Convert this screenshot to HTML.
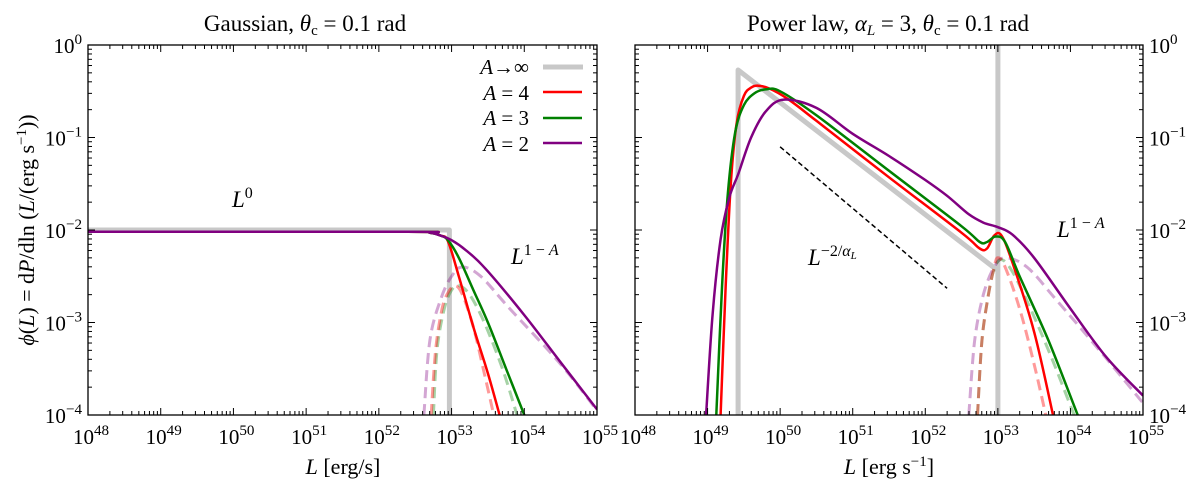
<!DOCTYPE html>
<html><head><meta charset="utf-8">
<style>
body{margin:0;background:#fff;}
svg{display:block;font-family:"Liberation Serif","DejaVu Serif",serif;}
</style></head>
<body>
<svg id="fig" width="1200" height="481" viewBox="0 0 1200 481"></svg>
<script>
// ---------- data (log10 L, log10 phi) ----------
const xDecades = [48,49,50,51,52,53,54,55];
const yDecades = [0,-1,-2,-3,-4];
const gaussLimitX = [48, 52.97, 52.97];
const gaussLimitY = [-2, -2, -4];
const gaussA4X = [48, 52.4, 52.7, 52.85, 52.95, 53.1, 53.3, 53.5, 53.66];
const gaussA4Y = [-2.02, -2.02, -2.03, -2.06, -2.12, -2.5, -3.05, -3.55, -4];
const gaussA3X = [48, 52.4, 52.7, 52.85, 52.95, 53.1, 53.3, 53.5, 53.75, 54.0];
const gaussA3Y = [-2.02, -2.02, -2.03, -2.06, -2.11, -2.3, -2.65, -3.0, -3.5, -4];
const gaussA2X = [48, 52.4, 52.7, 52.85, 53.0, 53.2, 53.47, 54, 54.5, 55];
const gaussA2Y = [-2.02, -2.02, -2.03, -2.06, -2.11, -2.22, -2.42, -2.92, -3.43, -3.94];
const gaussA4dX = [52.72, 52.78, 52.87, 52.95, 53.05, 53.15, 53.3, 53.45, 53.58];
const gaussA4dY = [-4, -3.3, -2.85, -2.68, -2.6, -2.7, -3.05, -3.55, -4];
const gaussA3dX = [52.75, 52.8, 52.9, 53.0, 53.1, 53.25, 53.45, 53.7, 53.9];
const gaussA3dY = [-4, -3.3, -2.85, -2.65, -2.6, -2.7, -3.0, -3.5, -4];
const gaussA2dX = [52.62, 52.7, 52.85, 53.0, 53.15, 53.4, 53.8, 54.5, 55];
const gaussA2dY = [-4, -3.2, -2.75, -2.5, -2.4, -2.5, -2.85, -3.45, -3.95];

const plLimitX = [49.42, 49.42, 53.0];
const plLimitY = [-4, -0.27, -2.44];
const plA4X = [49.18, 49.25, 49.32, 49.4, 49.5, 49.6, 49.7, 49.85, 50.1, 50.5, 51.5, 52.5, 52.75, 52.85, 52.95, 53.05, 53.2, 53.5, 53.76];
const plA4Y = [-4, -2.6, -1.5, -0.85, -0.55, -0.46, -0.44, -0.47, -0.58, -0.82, -1.43, -2.03, -2.2, -2.2, -2.06, -2.06, -2.35, -3.1, -4];
const plA3X = [49.12, 49.2, 49.28, 49.38, 49.5, 49.65, 49.8, 50.0, 50.5, 51.5, 52.5, 52.75, 52.85, 52.97, 53.1, 53.3, 53.7, 54.1];
const plA3Y = [-4, -2.6, -1.6, -0.95, -0.65, -0.52, -0.48, -0.5, -0.76, -1.36, -1.96, -2.13, -2.13, -2.07, -2.13, -2.5, -3.2, -4];
const plA2X = [48.98, 49.07, 49.18, 49.3, 49.42, 49.6, 49.8, 50.05, 50.5, 51, 51.5, 52, 52.3, 52.6, 52.8, 53.0, 53.2, 53.5, 54, 54.5, 55];
const plA2Y = [-4, -2.9, -2.1, -1.65, -1.4, -1.0, -0.72, -0.59, -0.68, -0.96, -1.2, -1.46, -1.63, -1.83, -1.92, -1.97, -2.05, -2.3, -2.85, -3.38, -3.79];
const plA4dX = [52.72, 52.78, 52.87, 52.95, 53.0, 53.1, 53.3, 53.5, 53.66];
const plA4dY = [-4, -3.2, -2.7, -2.4, -2.3, -2.4, -2.85, -3.45, -4];
const plA3dX = [52.72, 52.78, 52.87, 52.95, 53.05, 53.2, 53.45, 53.75, 54.05];
const plA3dY = [-4, -3.2, -2.7, -2.42, -2.32, -2.45, -2.85, -3.4, -4];
const plA2dX = [52.6, 52.68, 52.8, 52.95, 53.1, 53.4, 53.8, 54.4, 55];
const plA2dY = [-4, -3.2, -2.7, -2.4, -2.3, -2.4, -2.75, -3.3, -3.87];
const guideX = [50.0, 52.3];
const guideY = [-1.1, -2.63];

// ---------- drawing ----------
const NS = "http://www.w3.org/2000/svg";
const svg = document.getElementById('fig');
function el(tag, attrs, parent){
  const e = document.createElementNS(NS, tag);
  for (const k in attrs) e.setAttribute(k, attrs[k]);
  (parent||svg).appendChild(e);
  return e;
}
const Y0 = 45, Y1 = 415;
function makePanel(x0, x1){
  return {x0, x1,
    sx: v => x0 + (v - 48) / 7 * (x1 - x0),
    sy: v => Y0 + (0 - v) / 4 * (Y1 - Y0)};
}
const P1 = makePanel(88, 597);
const P2 = makePanel(635, 1143);

function series(P, xs, ys, color, width, dash, opacity, name, g, smooth){
  const pts = xs.map((x, i) => [P.sx(x), P.sy(ys[i])]);
  let d = 'M' + pts[0][0].toFixed(1) + ',' + pts[0][1].toFixed(1);
  for (let i = 0; i < pts.length - 1; i++){
    const p1 = pts[i], p2 = pts[i+1];
    if (smooth){
      const p0 = pts[i-1] || p1, p3 = pts[i+2] || p2;
      const c1 = [p1[0] + (p2[0]-p0[0])/6, p1[1] + (p2[1]-p0[1])/6];
      const c2 = [p2[0] - (p3[0]-p1[0])/6, p2[1] - (p3[1]-p1[1])/6];
      d += 'C' + c1[0].toFixed(1) + ',' + c1[1].toFixed(1) + ' ' + c2[0].toFixed(1) + ',' + c2[1].toFixed(1) + ' ' + p2[0].toFixed(1) + ',' + p2[1].toFixed(1);
    } else d += 'L' + p2[0].toFixed(1) + ',' + p2[1].toFixed(1);
  }
  const p = el('path', {d, fill:'none', stroke:color, 'stroke-width':width,
    'stroke-linejoin':'round', 'stroke-linecap':'butt', opacity:opacity}, g);
  if (dash) p.setAttribute('stroke-dasharray', dash);
  
  
  return p;
}
function powText(x, y, base, exp, anchor, size, name, g){
  const t = el('text', {x, y, 'font-size':size, 'text-anchor':anchor, fill:'#000'}, g);
  
  
  const b = el('tspan', {}, t); b.textContent = base;
  const e = el('tspan', {dy:-size*0.42, 'font-size':size*0.72}, t); e.textContent = exp;
  return t;
}
function axes(P, idx, rightLabels){
  const g = el('g', {});
  
  
  const clipId = 'clip' + idx;
  const cp = el('clipPath', {id:clipId}, g);
  el('rect', {x:P.x0, y:Y0, width:P.x1-P.x0, height:Y1-Y0}, cp);
  const plot = el('g', {'clip-path':'url(#'+clipId+')'}, g);
  
  
  const tk = el('g', {stroke:'#000', 'stroke-width':1}, g);
  
  
  for (let d = 48; d <= 55; d++){
    const x = P.sx(d);
    el('line', {x1:x, x2:x, y1:Y1, y2:Y1-7}, tk);
    el('line', {x1:x, x2:x, y1:Y0, y2:Y0+7}, tk);
    if (d < 55) for (let m = 2; m <= 9; m++){
      const xm = P.sx(d + Math.log10(m));
      el('line', {x1:xm, x2:xm, y1:Y1, y2:Y1-4}, tk);
      el('line', {x1:xm, x2:xm, y1:Y0, y2:Y0+4}, tk);
    }
  }
  for (let d = -4; d <= 0; d++){
    const y = P.sy(d);
    el('line', {x1:P.x0, x2:P.x0+7, y1:y, y2:y}, tk);
    el('line', {x1:P.x1, x2:P.x1-7, y1:y, y2:y}, tk);
    if (d < 0) for (let m = 2; m <= 9; m++){
      const ym = P.sy(d + Math.log10(m));
      el('line', {x1:P.x0, x2:P.x0+4, y1:ym, y2:ym}, tk);
      el('line', {x1:P.x1, x2:P.x1-4, y1:ym, y2:ym}, tk);
    }
  }
  xDecades.forEach(d => {
    powText(P.sx(d) + 3, 444, '10', String(d), 'middle', 21, 'x-tick-label', g);
  });
  yDecades.forEach(d => {
    const s = d === 0 ? '0' : '\u2212' + (-d);
    if (rightLabels) powText(P.x1 + 6, P.sy(d) + 8, '10', s, 'start', 21, 'y-tick-label', g);
    else powText(P.x0 - 6, P.sy(d) + 8, '10', s, 'end', 21, 'y-tick-label', g);
  });
  return {g, plot};
}

// Panel 1
const a1 = axes(P1, 1, false);
series(P1, gaussLimitX, gaussLimitY, '#c8c8c8', 5, null, 1, 'series-a-infinity', a1.plot, false);
series(P1, gaussA2dX, gaussA2dY, '#800080', 3, '11,6', 0.35, 'series-a2-dashed', a1.plot, true);
series(P1, gaussA3dX, gaussA3dY, '#008000', 3, '11,6', 0.35, 'series-a3-dashed', a1.plot, true);
series(P1, gaussA4dX, gaussA4dY, '#ff0000', 3, '11,6', 0.4, 'series-a4-dashed', a1.plot, true);
series(P1, gaussA4X, gaussA4Y, '#ff0000', 2.5, null, 1, 'series-a4', a1.plot, true);
series(P1, gaussA3X, gaussA3Y, '#008000', 2.5, null, 1, 'series-a3', a1.plot, true);
series(P1, gaussA2X, gaussA2Y, '#800080', 2.5, null, 1, 'series-a2', a1.plot, true);

// Panel 2
const a2 = axes(P2, 2, true);
series(P2, [53,53], [-4,0], '#c8c8c8', 5, null, 1, 'series-a-infinity-cut', a2.plot, false);
series(P2, plLimitX, plLimitY, '#c8c8c8', 5, null, 1, 'series-a-infinity', a2.plot, false);
series(P2, plA2dX, plA2dY, '#800080', 3, '11,6', 0.35, 'series-a2-dashed', a2.plot, true);
series(P2, plA3dX, plA3dY, '#008000', 3, '11,6', 0.35, 'series-a3-dashed', a2.plot, true);
series(P2, plA4dX, plA4dY, '#ff0000', 3, '11,6', 0.4, 'series-a4-dashed', a2.plot, true);
series(P2, plA4X, plA4Y, '#ff0000', 2.5, null, 1, 'series-a4', a2.plot, true);
series(P2, plA3X, plA3Y, '#008000', 2.5, null, 1, 'series-a3', a2.plot, true);
series(P2, plA2X, plA2Y, '#800080', 2.5, null, 1, 'series-a2', a2.plot, true);
series(P2, guideX, guideY, '#000', 1.5, '5,3', 1, 'slope-guide-line', a2.plot, false);

[P1, P2].forEach((P, i) => {
  const r = el('rect', {x:P.x0, y:Y0, width:P.x1-P.x0, height:Y1-Y0, fill:'none', stroke:'#000', 'stroke-width':1.3});
  
  
});
</script>

<svg width="1200" height="481" style="position:absolute;left:0;top:0;font-family:'Liberation Serif','DejaVu Serif',serif;">
  <text x="305" y="31" font-size="23" text-anchor="middle">Gaussian, <tspan font-style="italic">θ</tspan><tspan font-size="15" dy="4">c</tspan><tspan dy="-4"> = 0.1 rad</tspan></text>
  <text x="888" y="31" font-size="23" text-anchor="middle">Power law, <tspan font-style="italic">α</tspan><tspan font-size="15" font-style="italic" dy="4">L</tspan><tspan dy="-4"> = 3, </tspan><tspan font-style="italic">θ</tspan><tspan font-size="15" dy="4">c</tspan><tspan dy="-4"> = 0.1 rad</tspan></text>
  <text x="343" y="474" font-size="22" text-anchor="middle"><tspan font-style="italic">L</tspan> [erg/s]</text>
  <text x="889" y="474" font-size="22" text-anchor="middle"><tspan font-style="italic">L</tspan> [erg s<tspan font-size="15" dy="-8">−1</tspan><tspan dy="8">]</tspan></text>
  <text transform="translate(34,230) rotate(-90)" font-size="22" text-anchor="middle"><tspan font-style="italic">ϕ</tspan>(<tspan font-style="italic">L</tspan>) = d<tspan font-style="italic">P</tspan>/dln (<tspan font-style="italic">L</tspan>/(erg s<tspan font-size="15" dy="-8">−1</tspan><tspan dy="8">))</tspan></text>
  <text x="232" y="207" font-size="23"><tspan font-style="italic">L</tspan><tspan font-size="16" dy="-9">0</tspan></text>
  <text x="511" y="264" font-size="23"><tspan font-style="italic">L</tspan><tspan font-size="16" dy="-9">1 − <tspan font-style="italic">A</tspan></tspan></text>
  <text x="808" y="265" font-size="23"><tspan font-style="italic">L</tspan><tspan font-size="16" dy="-9">−2/<tspan font-style="italic">α</tspan></tspan><tspan font-size="11" font-style="italic" dy="3">L</tspan></text>
  <text x="1057" y="237" font-size="23"><tspan font-style="italic">L</tspan><tspan font-size="16" dy="-9">1 − <tspan font-style="italic">A</tspan></tspan></text>
  <g font-size="21">
    <g><text x="529" y="74" text-anchor="end"><tspan font-style="italic">A</tspan>→∞</text><line x1="543" x2="583" y1="67" y2="67" stroke="#c8c8c8" stroke-width="5"/></g>
    <g><text x="529" y="100" text-anchor="end"><tspan font-style="italic">A</tspan> = 4</text><line x1="543" x2="582" y1="92" y2="92" stroke="#ff0000" stroke-width="2.5"/></g>
    <g><text x="529" y="125" text-anchor="end"><tspan font-style="italic">A</tspan> = 3</text><line x1="543" x2="582" y1="118" y2="118" stroke="#008000" stroke-width="2.5"/></g>
    <g><text x="529" y="151" text-anchor="end"><tspan font-style="italic">A</tspan> = 2</text><line x1="543" x2="582" y1="143" y2="143" stroke="#800080" stroke-width="2.5"/></g>
  </g>
</svg>
</body></html>
